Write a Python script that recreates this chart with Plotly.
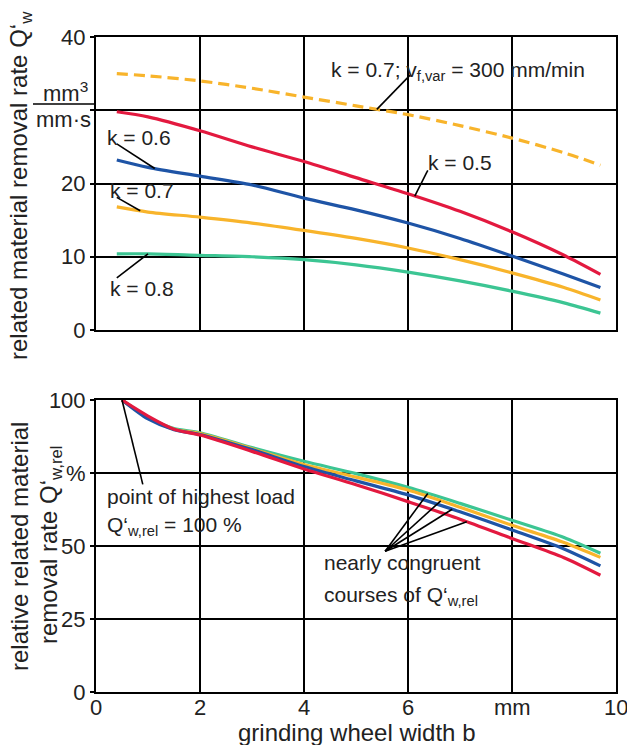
import numpy as np
import plotly.graph_objects as go

# ---------------- data ----------------
x_top = [0.4, 1, 2, 3, 4, 5, 6, 7, 8, 9, 9.7]
q_k05 = [29.8, 29.1, 27.2, 25.0, 23.0, 20.8, 18.6, 16.2, 13.4, 10.2, 7.6]
q_k06 = [23.2, 22.2, 21.0, 19.8, 18.0, 16.4, 14.6, 12.5, 10.1, 7.6, 5.8]
q_k07 = [16.8, 16.1, 15.4, 14.6, 13.6, 12.5, 11.2, 9.6, 7.8, 5.8, 4.1]
q_k08 = [10.4, 10.4, 10.2, 10.0, 9.6, 8.9, 7.9, 6.7, 5.3, 3.7, 2.3]
q_k07_var = [35.0, 34.7, 34.0, 33.0, 31.8, 30.6, 29.4, 27.9, 26.2, 24.2, 22.5]

x_bot = [0.5, 1.0, 1.5, 2, 3, 4, 5, 6, 7, 8, 9, 9.7]
rel_k05 = [100, 94.5, 90.0, 88.0, 82.4, 76.4, 71.0, 65.2, 59.2, 52.6, 46.0, 40.0]
rel_k06 = [100, 93.5, 89.8, 88.2, 83.0, 77.2, 72.3, 67.5, 61.7, 55.5, 49.0, 43.2]
rel_k07 = [100, 94.0, 90.0, 88.5, 83.3, 77.9, 73.6, 69.2, 63.3, 57.1, 51.2, 46.1]
rel_k08 = [100, 94.0, 90.2, 88.8, 83.7, 79.0, 74.8, 70.1, 64.6, 58.8, 52.9, 47.5]

x_tickvals = [0, 2, 4, 6, 8, 10]
x_ticktext = ["0", "2", "4", "6", "mm", "10"]
top_tickvals = [0, 10, 20, 30, 40]
top_ticktext = ["0", "10", "20", "", "40"]
bot_tickvals = [0, 25, 50, 75, 100]
bot_ticktext = ["0", "25", "50", "%", "100"]

RED = "#E3193F"
BLUE = "#1E54A6"
ORANGE = "#F8B42B"
GREEN = "#3CC593"
FONT = "Liberation Sans, Arial, sans-serif"
TXT = "#222"

fig = go.Figure()

def add(x, y, color, xa, ya, dash=None):
    fig.add_trace(go.Scatter(
        x=x, y=y, mode="lines", xaxis=xa, yaxis=ya,
        line=dict(color=color, width=3.2, shape="spline", smoothing=0.8,
                  dash=dash), showlegend=False, hoverinfo="skip"))

add(x_top, q_k08, GREEN, "x", "y")
add(x_top, q_k07, ORANGE, "x", "y")
add(x_top, q_k06, BLUE, "x", "y")
add(x_top, q_k05, RED, "x", "y")
add(x_top, q_k07_var, ORANGE, "x", "y", dash="11px,6px")

add(x_bot, rel_k08, GREEN, "x2", "y2")
add(x_bot, rel_k07, ORANGE, "x2", "y2")
add(x_bot, rel_k06, BLUE, "x2", "y2")
add(x_bot, rel_k05, RED, "x2", "y2")

axis_common = dict(showgrid=True, gridcolor="black", gridwidth=1.5,
                   showline=True, linecolor="black", linewidth=2, mirror=True,
                   zeroline=False, automargin=False,
                   tickfont=dict(family=FONT, size=22, color=TXT))

L, R, T, B = 96, 11, 37, 53
W, H = 627, 745
ph = H - T - B
pw = W - L - R

def py(p):  # pixel y -> paper
    return (H - B - p) / ph

def px(p):  # pixel x -> paper
    return (p - L) / pw

fig.update_layout(
    width=W, height=H,
    margin=dict(l=L, r=R, t=T, b=B, autoexpand=False),
    paper_bgcolor="white", plot_bgcolor="white",
    xaxis=dict(domain=[0, 1], range=[0, 10], tickvals=x_tickvals,
               showticklabels=False, anchor="y", ticks="", **axis_common),
    yaxis=dict(domain=[py(330), 1], range=[0, 40], tickvals=top_tickvals,
               ticktext=top_ticktext, anchor="x", ticks="outside", ticklen=4,
               tickcolor="black", tickwidth=1.5, **axis_common),
    xaxis2=dict(domain=[0, 1], range=[0, 10], tickvals=x_tickvals,
                showticklabels=False, anchor="y2", ticks="", **axis_common),
    yaxis2=dict(domain=[0, py(400)], range=[0, 100], tickvals=bot_tickvals,
                ticktext=bot_ticktext, anchor="x2", ticks="outside", ticklen=4,
                tickcolor="black", tickwidth=1.5, **axis_common),
)

ann = []
def text(x, y, t, xref="paper", yref="paper", size=21, angle=0, xanchor="center"):
    ann.append(dict(x=x, y=y, xref=xref, yref=yref, text=t, showarrow=False,
                    textangle=angle, xanchor=xanchor, yanchor="middle",
                    font=dict(family=FONT, size=size, color=TXT)))

# x tick labels (bottom panel), placed close to the axis as in the original
for v, t in zip(x_tickvals, x_ticktext):
    ann.append(dict(x=v, y=py(707), xref="x2", yref="paper", text=t,
                    showarrow=False, xanchor="center", yanchor="middle",
                    font=dict(family=FONT, size=22, color=TXT)))

# axis titles
text(px(20), py(186), "related material removal rate Q‘<sub>w</sub>", size=24, angle=-90)
text(px(19), py(547), "relative related material", size=24, angle=-90)
text(px(50), py(545), "removal rate Q‘<sub>w,rel</sub>", size=24, angle=-90)
text(0.5, py(732), "grinding wheel width b", size=24)

# unit fraction
text(px(65), py(92), "mm<sup>3</sup>", size=22)
text(px(63), py(120), "mm·s", size=22)

# top labels
text(0.82, 26.3, "k = 0.6", "x", "y")
text(0.88, 19.0, "k = 0.7", "x", "y")
text(0.88, 5.6, "k = 0.8", "x", "y")
text(7.0, 22.9, "k = 0.5", "x", "y")
text(6.96, 35.3, "k = 0.7; v<sub>f,var</sub> = 300 mm/min", "x", "y")

# bottom labels
text(0.17, 67.0, "point of highest load", "x2", "y2", xanchor="left")
text(0.17, 57.0, "Q‘<sub>w,rel</sub> = 100 %", "x2", "y2", xanchor="left")
text(4.35, 44.3, "nearly congruent", "x2", "y2", xanchor="left")
text(4.35, 33.0, "courses of Q‘<sub>w,rel</sub>", "x2", "y2", xanchor="left")

fig.update_layout(annotations=ann)

shapes = []
def seg(x0, y0, x1, y1, xref, yref, w=1.6):
    shapes.append(dict(type="line", x0=x0, y0=y0, x1=x1, y1=y1, xref=xref,
                       yref=yref, line=dict(color="black", width=w), layer="above"))

# fraction bar
seg(px(33), py(104), px(95), py(104), "paper", "paper", w=1.5)

# leaders top
seg(0.4, 25.4, 1.13, float(np.interp(1.13, x_top, q_k06)), "x", "y")
seg(0.4, 18.1, 0.85, float(np.interp(0.85, x_top, q_k07)), "x", "y")
seg(0.4, 7.1, 1.0, float(np.interp(1.0, x_top, q_k08)), "x", "y")
seg(6.38, 21.8, 6.13, float(np.interp(6.13, x_top, q_k05)), "x", "y")
seg(6.04, 34.8, 5.4, float(np.interp(5.4, x_top, q_k07_var)), "x", "y")

# leaders bottom
seg(0.9, 71.1, x_bot[0], rel_k05[0], "x2", "y2")
hub = (5.56, 48.2)
for xe, arr in [(6.38, rel_k08), (6.63, rel_k07), (6.85, rel_k06), (7.13, rel_k05)]:
    seg(hub[0], hub[1], xe, float(np.interp(xe, x_bot, arr)), "x2", "y2")

fig.update_layout(shapes=shapes)

fig.write_html("out.html",
               config={"displayModeBar": False},
               post_script="document.body.style.margin='0';"
                           "document.body.style.overflow='hidden';")
